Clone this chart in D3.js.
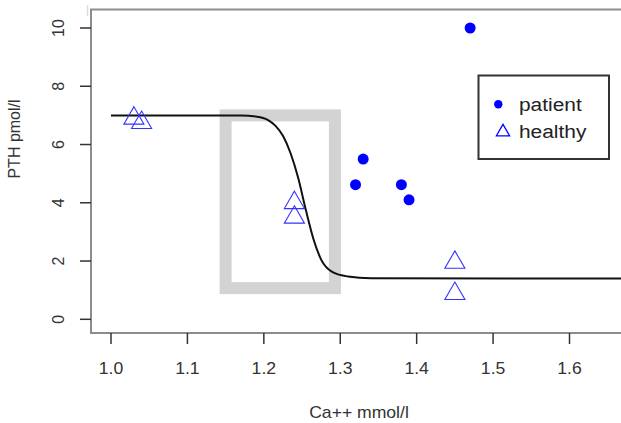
<!DOCTYPE html>
<html>
<head>
<meta charset="utf-8">
<script src="https://cdn.jsdelivr.net/npm/d3@7"></script>
<style>
  body { margin: 0; background: #fff; }
  text { font-family: "Liberation Sans", Arial, sans-serif; }
</style>
</head>
<body>
<div id="chart"></div>
<script>
// data
var patientCa = [1.47, 1.33, 1.32, 1.38, 1.39];
var patientPTH = [10.0, 5.5, 4.62, 4.62, 4.1];

var healthyCa = [1.03, 1.04, 1.24, 1.24, 1.45, 1.45];
var healthyPTH = [6.9, 6.75, 4.0, 3.5, 1.95, 0.88];

// fitted curve
var curveCa = [1.00, 1.17, 1.19, 1.205, 1.215, 1.225, 1.235, 1.245, 1.255, 1.265, 1.275, 1.29, 1.31, 1.34, 1.70];
var curvePTH = [7.00, 7.00, 6.96, 6.85, 6.65, 6.30, 5.70, 4.85, 3.75, 2.75, 2.05, 1.62, 1.47, 1.41, 1.40];

// grey "set point" window
var windowCa = [1.15, 1.293];
var windowPTH = [1.07, 7.0];

var xTicks = [1.0, 1.1, 1.2, 1.3, 1.4, 1.5, 1.6];
var yTicks = [0, 2, 4, 6, 8, 10];
var legendLabels = ["patient", "healthy"];

var W = 621, H = 423;
var box = { left: 91, top: 9.5, right: 629, bottom: 333 };
var sx = 1.1; // text in the original is a bit wider than it is tall

var x = d3.scaleLinear().domain([1.0, 1.6]).range([111, 569.5]);
var y = d3.scaleLinear().domain([0, 10]).range([319.3, 28]);

var svg = d3.select("#chart").append("svg")
  .attr("width", W)
  .attr("height", H);

svg.append("defs").append("clipPath").attr("id", "clip")
  .append("rect")
  .attr("x", box.left).attr("y", box.top)
  .attr("width", box.right - box.left).attr("height", box.bottom - box.top);

// faint mark top-left
svg.append("line")
  .attr("x1", 87.5).attr("x2", 87.5).attr("y1", 5).attr("y2", 16)
  .attr("stroke", "#ddd").attr("stroke-width", 1.5);

var plot = svg.append("g").attr("clip-path", "url(#clip)");

// grey window
plot.append("rect")
  .attr("x", x(windowCa[0]))
  .attr("y", y(windowPTH[1]))
  .attr("width", x(windowCa[1]) - x(windowCa[0]))
  .attr("height", y(windowPTH[0]) - y(windowPTH[1]))
  .attr("fill", "none")
  .attr("stroke", "#d3d3d3")
  .attr("stroke-width", 12);

// curve
var line = d3.line()
  .x(function (d, i) { return x(curveCa[i]); })
  .y(function (d, i) { return y(curvePTH[i]); })
  .curve(d3.curveMonotoneX);

plot.append("path")
  .datum(curveCa)
  .attr("d", line)
  .attr("fill", "none")
  .attr("stroke", "#111")
  .attr("stroke-width", 2);

// healthy triangles
var tri = d3.symbol().type(d3.symbolTriangle).size(175);
plot.append("g").selectAll("path")
  .data(healthyCa)
  .enter().append("path")
  .attr("d", tri)
  .attr("transform", function (d, i) { return "translate(" + x(d) + "," + y(healthyPTH[i]) + ")"; })
  .attr("fill", "none")
  .attr("stroke", "#3333ff")
  .attr("stroke-width", 1.1);

// patient dots
plot.append("g").selectAll("circle")
  .data(patientCa)
  .enter().append("circle")
  .attr("cx", function (d) { return x(d); })
  .attr("cy", function (d, i) { return y(patientPTH[i]); })
  .attr("r", 5.5)
  .attr("fill", "#0000ff");

// axis box
svg.append("path")
  .attr("d", "M" + box.right + "," + box.top + "H" + box.left + "V" + box.bottom + "H" + box.right)
  .attr("fill", "none")
  .attr("stroke", "#8c8c8c")
  .attr("stroke-width", 2);

// x axis
var xAxis = svg.append("g");
xAxis.selectAll("line")
  .data(xTicks)
  .enter().append("line")
  .attr("x1", function (d) { return x(d); })
  .attr("x2", function (d) { return x(d); })
  .attr("y1", box.bottom)
  .attr("y2", box.bottom + 11)
  .attr("stroke", "#333")
  .attr("stroke-width", 1.5);
xAxis.selectAll("text")
  .data(xTicks)
  .enter().append("text")
  .attr("transform", function (d) { return "translate(" + x(d) + ",374) scale(" + sx + ",1)"; })
  .attr("text-anchor", "middle")
  .attr("font-size", 16)
  .attr("fill", "#333")
  .text(function (d) { return d3.format(".1f")(d); });

// y axis
var yAxis = svg.append("g");
yAxis.selectAll("line")
  .data(yTicks)
  .enter().append("line")
  .attr("x1", 80)
  .attr("x2", box.left)
  .attr("y1", function (d) { return y(d); })
  .attr("y2", function (d) { return y(d); })
  .attr("stroke", "#333")
  .attr("stroke-width", 1.5);
yAxis.selectAll("text")
  .data(yTicks)
  .enter().append("text")
  .attr("transform", function (d) { return "translate(64," + y(d) + ") rotate(-90)"; })
  .attr("text-anchor", "middle")
  .attr("font-size", 16)
  .attr("fill", "#333")
  .text(function (d) { return d; });

// axis titles
svg.append("text")
  .attr("transform", "translate(359,418) scale(" + sx + ",1)")
  .attr("text-anchor", "middle")
  .attr("font-size", 16)
  .attr("fill", "#333")
  .text("Ca++ mmol/l");

svg.append("text")
  .attr("transform", "translate(20,139) rotate(-90)")
  .attr("text-anchor", "middle")
  .attr("font-size", 16)
  .attr("fill", "#333")
  .text("PTH pmol/l");

// legend
var legend = svg.append("g");
legend.append("rect")
  .attr("x", 478.5).attr("y", 75.5)
  .attr("width", 130.5).attr("height", 83.5)
  .attr("fill", "#fff")
  .attr("stroke", "#333")
  .attr("stroke-width", 2);

legend.append("circle")
  .attr("cx", 498.3).attr("cy", 104.3).attr("r", 4.2)
  .attr("fill", "#0000ff");
legend.append("path")
  .attr("d", d3.symbol().type(d3.symbolTriangle).size(75))
  .attr("transform", "translate(503,132)")
  .attr("fill", "none")
  .attr("stroke", "#0000ff")
  .attr("stroke-width", 1.3);

legend.selectAll("text")
  .data(legendLabels)
  .enter().append("text")
  .attr("transform", function (d, i) { return "translate(519," + (111 + i * 27) + ") scale(" + sx + ",1)"; })
  .attr("font-size", 19)
  .attr("fill", "#222")
  .text(function (d) { return d; });
</script>
</body>
</html>
